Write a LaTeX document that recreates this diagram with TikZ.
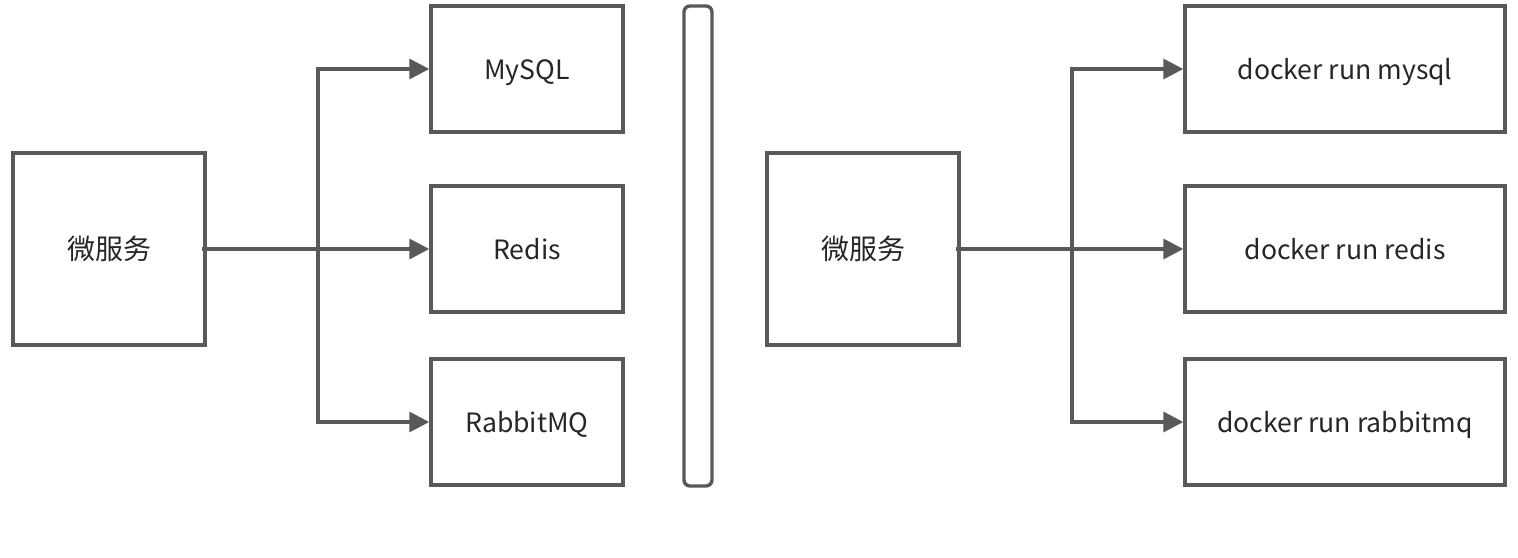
\documentclass[tikz,border=0pt]{standalone}
\usepackage{fontspec}
\setmainfont{Noto Sans CJK SC}
\usetikzlibrary{arrows.meta}
\definecolor{linegray}{HTML}{595959}
\tikzset{
  box/.style={draw=linegray, line width=1.7pt, rectangle, minimum width=96pt, minimum height=63pt, font=\fontsize{13.3}{16}\selectfont, text=black!85, text height=10pt, text depth=0pt},
  bigbox/.style={box, minimum height=96pt, font=\fontsize{14}{16}\selectfont},
  widebox/.style={box, minimum width=160pt},
  link/.style={draw=linegray, line width=1.7pt},
  arr/.style={link, -{Triangle[length=10pt,width=10pt]}}
}
\begin{document}
\begin{tikzpicture}[x=0.5pt,y=-0.5pt]
\useasboundingbox (0,0) rectangle (1518,557);
% left side
\node[bigbox] (ms1) at (109,249) {微服务};
\node[box] (mysql) at (527,69) {MySQL};
\node[box] (redis) at (527,249) {Redis};
\node[box] (rabbit) at (527,422) {RabbitMQ};
\coordinate (j1) at (318,249);
\draw[link] ([xshift=-2.5pt]ms1.east) -- (j1);
\draw[arr] (j1) |- (mysql.west);
\draw[arr] (j1) -- (redis.west);
\draw[arr] (j1) |- (rabbit.west);
% separator
\node[draw=linegray, line width=1.7pt, rounded corners=3pt, minimum width=14pt, minimum height=240pt] (sep) at (698,246) {};
% right side
\node[bigbox] (ms2) at (863,249) {微服务};
\node[widebox] (dmysql) at (1345,69) {docker run mysql};
\node[widebox] (dredis) at (1345,249) {docker run redis};
\node[widebox] (drabbit) at (1345,422) {docker run rabbitmq};
\coordinate (j2) at (1072,249);
\draw[link] ([xshift=-2.5pt]ms2.east) -- (j2);
\draw[arr] (j2) |- (dmysql.west);
\draw[arr] (j2) -- (dredis.west);
\draw[arr] (j2) |- (drabbit.west);
\end{tikzpicture}
\end{document}
